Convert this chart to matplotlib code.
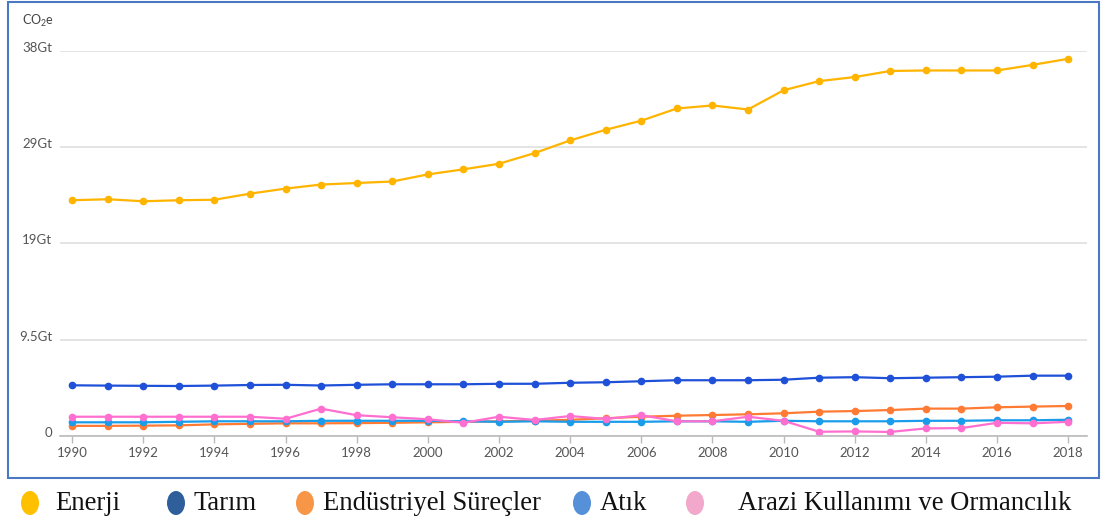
import numpy as np
import matplotlib.pyplot as plt
from matplotlib.patches import Ellipse, Rectangle
from matplotlib.transforms import offset_copy

years = list(range(1990, 2019))

enerji = [23.25, 23.35, 23.15, 23.25, 23.3, 23.9, 24.4, 24.8, 24.95, 25.1, 25.8, 26.3, 26.85,
          27.9, 29.15, 30.2, 31.1, 32.3, 32.6, 32.2, 34.1, 35.0, 35.4, 36.0, 36.05, 36.05,
          36.05, 36.6, 37.2]
tarim = [5.0, 4.97, 4.95, 4.93, 4.97, 5.03, 5.05, 4.98, 5.05, 5.1, 5.1, 5.1, 5.15, 5.15, 5.25,
         5.3, 5.4, 5.5, 5.5, 5.5, 5.55, 5.75, 5.8, 5.7, 5.75, 5.8, 5.85, 5.95, 5.95]
endustri = [1.0, 1.0, 1.02, 1.05, 1.15, 1.2, 1.25, 1.25, 1.27, 1.3, 1.35, 1.4, 1.45, 1.5, 1.6,
            1.75, 1.9, 2.0, 2.07, 2.14, 2.24, 2.4, 2.46, 2.56, 2.7, 2.7, 2.83, 2.9, 2.96]
atik = [1.35, 1.35, 1.35, 1.4, 1.45, 1.45, 1.45, 1.5, 1.5, 1.5, 1.5, 1.45, 1.4, 1.45, 1.4,
        1.4, 1.4, 1.45, 1.45, 1.4, 1.5, 1.45, 1.45, 1.45, 1.5, 1.5, 1.55, 1.55, 1.6]
arazi = [1.9, 1.9, 1.9, 1.9, 1.9, 1.9, 1.7, 2.7, 2.05, 1.85, 1.65, 1.3, 1.9, 1.58, 1.97, 1.68,
         2.05, 1.45, 1.45, 1.9, 1.5, 0.42, 0.45, 0.4, 0.75, 0.78, 1.3, 1.25, 1.4]

series = [("Enerji", enerji, "#FFB400", "#FFC000"),
          ("Tarım", tarim, "#1F50D8", "#2F5F9A"),
          ("Endüstriyel Süreçler", endustri, "#FF7A33", "#F79646"),
          ("Atık", atik, "#1A9CEB", "#5590D8"),
          ("Arazi Kullanımı ve Ormancılık", arazi, "#FF6FCF", "#F2A8CA")]

yticks = [0, 9.5, 19, 28.5, 38]
ytick_labels = ["0", "9.5Gt", "19Gt", "29Gt", "38Gt"]
xticks = list(range(1990, 2019, 2))

W, H = 1103, 525
fig = plt.figure(figsize=(W / 100, H / 100), dpi=100)

# blue frame around the chart
fig.patches.append(Rectangle((8 / W, 1 - 478 / H), 1091 / W, 476 / H, transform=fig.transFigure,
                             fill=False, edgecolor="#4A78C2", lw=1.5))

ax = fig.add_axes([60 / W, (H - 436) / H, 1027 / W, (436 - 50.7) / H])
for name, vals, lc, mc in series:
    ax.plot(years, vals, color=lc, lw=1.6, marker="o", ms=4.5, clip_on=False)

ax.set_xlim(1989.66, 2018.53)
ax.set_ylim(0, 38)
for s in ["top", "right", "left"]:
    ax.spines[s].set_visible(False)
ax.spines["bottom"].set_color("#BBBBBB")
ax.spines["bottom"].set_linewidth(1.2)
ax.set_yticks(yticks)
ax.set_yticklabels([])
ax.tick_params(axis="y", length=0)
ax.grid(axis="y", color="#E2E2E2", lw=1.3)
ax.set_axisbelow(True)
ax.set_xticks(xticks)
ax.set_xticklabels([str(x) for x in xticks], fontname="Lato", fontsize=9.5, color="#555555")
ax.tick_params(axis="x", length=5, color="#BBBBBB", width=1, pad=3)

# y labels sit slightly above the gridlines
tr = offset_copy(ax.get_yaxis_transform(), fig=fig, x=-8, y=3, units="dots")
for v, lab in zip(yticks, ytick_labels):
    ax.text(0, v, lab, transform=tr, ha="right", va="center", fontname="Lato", fontsize=9.5,
            color="#555555")
fig.text(22 / W, 1 - 21 / H, r"CO$_\mathregular{2}$e", fontname="Lato", fontsize=9,
         color="#444444", va="center")

# legend below the frame
leg_x = [(30, 55), (176, 193), (305, 323), (582, 600), (695, 738)]
leg_y = 1 - 503 / H
for (name, vals, lc, mc), (ex, tx) in zip(series, leg_x):
    fig.patches.append(Ellipse((ex / W, leg_y), 18 / W, 24 / H, transform=fig.transFigure,
                               facecolor=mc, edgecolor="none"))
    fig.text(tx / W, leg_y, name, fontname="Liberation Serif", fontsize=19.2, va="center",
             ha="left", color="#111111")

fig.savefig("out.png", dpi=100)
